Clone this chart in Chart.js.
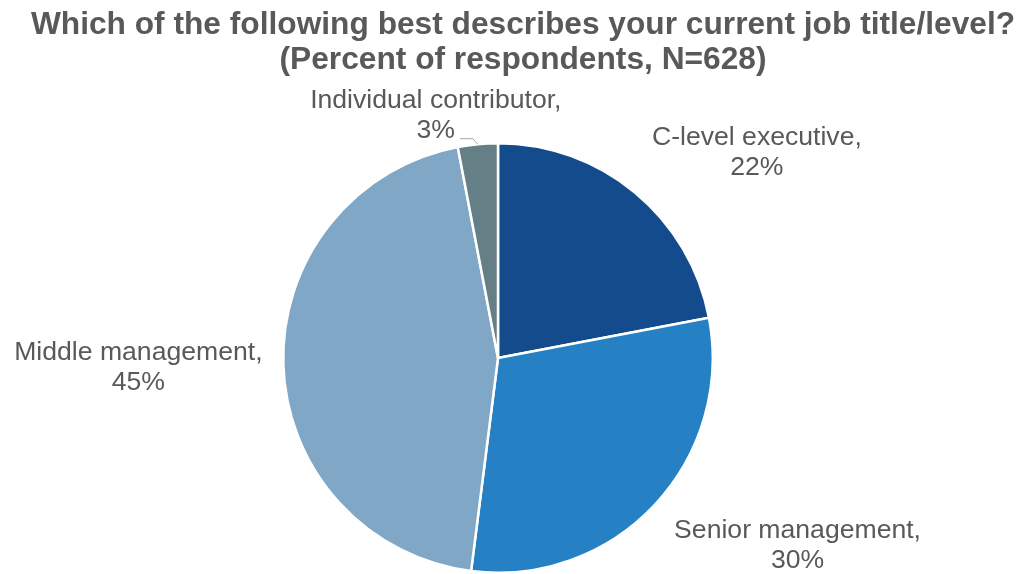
<!DOCTYPE html>
<html>
<head>
<meta charset="utf-8">
<script src="https://cdn.jsdelivr.net/npm/chart.js@4"></script>
<style>
  html, body { margin: 0; padding: 0; background: #ffffff; }
  #wrap { width: 1026px; height: 574px; position: relative; }
</style>
</head>
<body>
<div id="wrap"><canvas id="chart"></canvas></div>
<script>
// Survey answers: job title / level
const categories = ['C-level executive', 'Senior management', 'Middle management', 'Individual contributor'];
const percents = [22, 30, 45, 3];
const sliceColors = ['#144B8D', '#2581C4', '#80A7C6', '#657F86'];

const titleLines = [
  'Which of the following best describes your current job title/level?',
  '(Percent of respondents, N=628)'
];

// Label placement relative to each slice's outer edge at its mid angle
const labelOffsets = [[122, -40], [143, 41], [-145, 3], [-42, -29]];
const TEXT_COLOR = '#595959';
const FONT_FAMILY = '"Liberation Sans", Arial, sans-serif';
const LABEL_FONT = '26.6px ' + FONT_FAMILY;
const TITLE_FONT = 'bold 31.7px ' + FONT_FAMILY;

// Two-line heading, centred over the page
const heading = {
  id: 'heading',
  afterDraw(chart) {
    const ctx = chart.ctx;
    ctx.save();
    ctx.font = TITLE_FONT;
    ctx.fillStyle = TEXT_COLOR;
    ctx.textAlign = 'center';
    ctx.textBaseline = 'alphabetic';
    const cx = chart.width / 2 + 10;
    titleLines.forEach((line, i) => ctx.fillText(line, cx, 33.5 + i * 35));
    ctx.restore();
  }
};

const sliceLabels = {
  id: 'sliceLabels',
  afterDatasetsDraw(chart) {
    const ctx = chart.ctx;
    const meta = chart.getDatasetMeta(0);
    ctx.save();
    ctx.font = LABEL_FONT;
    ctx.fillStyle = TEXT_COLOR;
    ctx.textAlign = 'center';
    ctx.textBaseline = 'middle';
    meta.data.forEach((arc, i) => {
      const p = arc.getProps(['x', 'y', 'startAngle', 'endAngle', 'outerRadius'], true);
      const mid = (p.startAngle + p.endAngle) / 2;
      const ex = p.x + Math.cos(mid) * p.outerRadius;
      const ey = p.y + Math.sin(mid) * p.outerRadius;
      const cx = ex + labelOffsets[i][0];
      const cy = ey + labelOffsets[i][1];
      ctx.fillText(categories[i] + ',', cx, cy - 15);
      ctx.fillText(percents[i] + '%', cx, cy + 15);
      // small slice gets a leader line from its edge to the label
      if (percents[i] < 5) {
        ctx.save();
        ctx.strokeStyle = '#A6A6A6';
        ctx.lineWidth = 1;
        ctx.beginPath();
        ctx.moveTo(ex, ey);
        ctx.lineTo(ex - 5, ey - 5.5);
        ctx.lineTo(cx + 24, ey - 5.5);
        ctx.stroke();
        ctx.restore();
      }
    });
    ctx.restore();
  }
};

new Chart(document.getElementById('chart'), {
  type: 'pie',
  data: {
    labels: categories,
    datasets: [{
      data: percents,
      backgroundColor: sliceColors,
      borderColor: '#ffffff',
      borderWidth: 2.5
    }]
  },
  options: {
    responsive: true,
    maintainAspectRatio: false,
    animation: false,
    events: [],
    layout: { padding: { left: 20, right: 50, top: 142, bottom: 0 } },
    plugins: {
      legend: { display: false },
      tooltip: { enabled: false },
      title: { display: false }
    }
  },
  plugins: [sliceLabels, heading]
});
</script>
</body>
</html>
